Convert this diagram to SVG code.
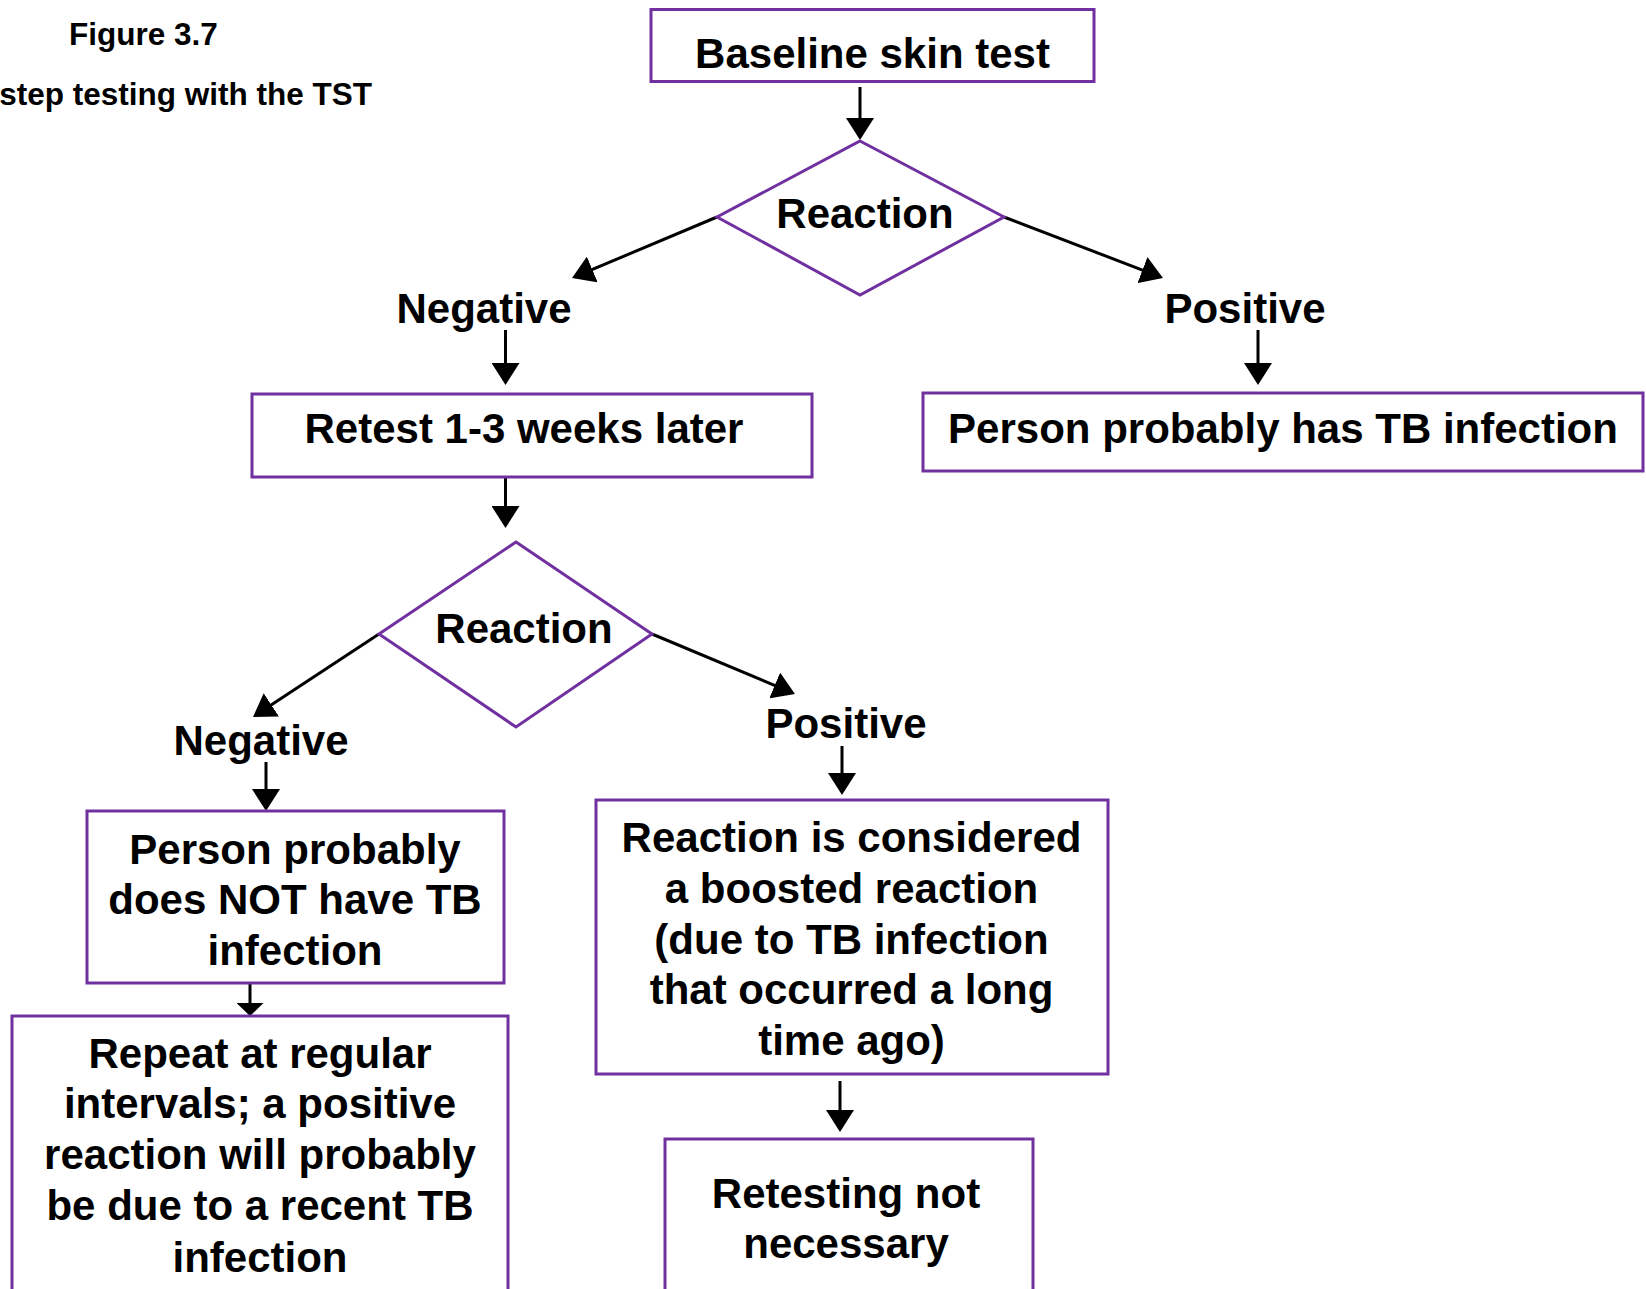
<svg xmlns="http://www.w3.org/2000/svg" width="1646" height="1289" viewBox="0 0 1646 1289">
<style>
  .box { fill: #ffffff; stroke: #7030A0; stroke-width: 3; }
  .t { font-family: "Liberation Sans", Arial, sans-serif; font-weight: bold; font-size: 42px; fill: #000000; text-anchor: middle; }
  .title { font-family: "Liberation Sans", Arial, sans-serif; font-weight: bold; font-size: 31.5px; fill: #000000; }
  .c { fill: none; stroke: #000000; stroke-width: 3; }
  .ca { marker-end: url(#arrow); }
  .cs { marker-end: url(#arrowShort); }
</style>
<defs>
  <marker id="arrow" markerUnits="userSpaceOnUse" viewBox="0 0 22 28" refX="14" refY="14" markerWidth="22" markerHeight="28" orient="auto">
    <path d="M0,0 L22,14 L0,28 Z" fill="#000000"/>
  </marker>
  <marker id="arrowShort" markerUnits="userSpaceOnUse" viewBox="0 0 13 27" refX="8" refY="13.5" markerWidth="13" markerHeight="27" orient="auto">
    <path d="M0,0 L13,13.5 L0,27 Z" fill="#000000"/>
  </marker>
</defs>
<rect width="1646" height="1289" fill="#ffffff"/>

<g id="title">
  <text class="title" x="69" y="45">Figure 3.7</text>
  <text class="title" x="372" y="105" text-anchor="end">step testing with the TST</text>
</g>

<g id="connectors">
  <line class="c ca" x1="860" y1="87" x2="860" y2="132"/>
  <line class="c ca" x1="717" y1="217" x2="579.4" y2="274.9"/>
  <line class="c ca" x1="1004" y1="217" x2="1155.5" y2="275.1"/>
  <line class="c ca" x1="505.5" y1="330" x2="505.5" y2="377"/>
  <line class="c ca" x1="1258" y1="330" x2="1258" y2="377"/>
  <line class="c ca" x1="505.5" y1="478" x2="505.5" y2="520"/>
  <line class="c ca" x1="379" y1="634" x2="259.7" y2="712.6"/>
  <line class="c ca" x1="652" y1="634" x2="787.6" y2="690.9"/>
  <line class="c ca" x1="266" y1="762" x2="266" y2="803"/>
  <line class="c ca" x1="842" y1="746" x2="842" y2="787"/>
  <line class="c cs" x1="250" y1="983" x2="250" y2="1011"/>
  <line class="c ca" x1="840" y1="1081" x2="840" y2="1124"/>
</g>

<g id="baseline">
  <rect class="box" x="651" y="9.5" width="443" height="72"/>
  <text class="t" x="872.5" y="68">Baseline skin test</text>
</g>

<g id="reaction1">
  <polygon class="box" points="860,141 1004,217 860,295 717,217"/>
  <text class="t" x="865" y="228">Reaction</text>
</g>

<g id="negative1">
  <text class="t" x="484" y="323">Negative</text>
</g>

<g id="positive1">
  <text class="t" x="1245" y="323">Positive</text>
</g>

<g id="retest">
  <rect class="box" x="252" y="394" width="560" height="83"/>
  <text class="t" x="524" y="443">Retest 1-3 weeks later</text>
</g>

<g id="hasTB">
  <rect class="box" x="923" y="393" width="720" height="78"/>
  <text class="t" x="1283" y="443">Person probably has TB infection</text>
</g>

<g id="reaction2">
  <polygon class="box" points="516,542 652,634 516,727 379,634"/>
  <text class="t" x="524" y="643">Reaction</text>
</g>

<g id="negative2">
  <text class="t" x="261" y="755">Negative</text>
</g>

<g id="positive2">
  <text class="t" x="846" y="738">Positive</text>
</g>

<g id="notTB">
  <rect class="box" x="87" y="811" width="417" height="172"/>
  <text class="t" x="295" y="864">Person probably</text>
  <text class="t" x="295" y="914">does NOT have TB</text>
  <text class="t" x="295" y="965">infection</text>
</g>

<g id="repeat">
  <rect class="box" x="12" y="1016" width="496" height="300"/>
  <text class="t" x="260" y="1068">Repeat at regular</text>
  <text class="t" x="260" y="1118">intervals; a positive</text>
  <text class="t" x="260" y="1169">reaction will probably</text>
  <text class="t" x="260" y="1220">be due to a recent TB</text>
  <text class="t" x="260" y="1272">infection</text>
</g>

<g id="boosted">
  <rect class="box" x="596" y="800" width="512" height="274"/>
  <text class="t" x="851.5" y="852">Reaction is considered</text>
  <text class="t" x="851.5" y="903">a boosted reaction</text>
  <text class="t" x="851.5" y="954">(due to TB infection</text>
  <text class="t" x="851.5" y="1004">that occurred a long</text>
  <text class="t" x="851.5" y="1055">time ago)</text>
</g>

<g id="retestingNotNecessary">
  <rect class="box" x="665" y="1139" width="368" height="200"/>
  <text class="t" x="846" y="1208">Retesting not</text>
  <text class="t" x="846" y="1258">necessary</text>
</g>
</svg>
